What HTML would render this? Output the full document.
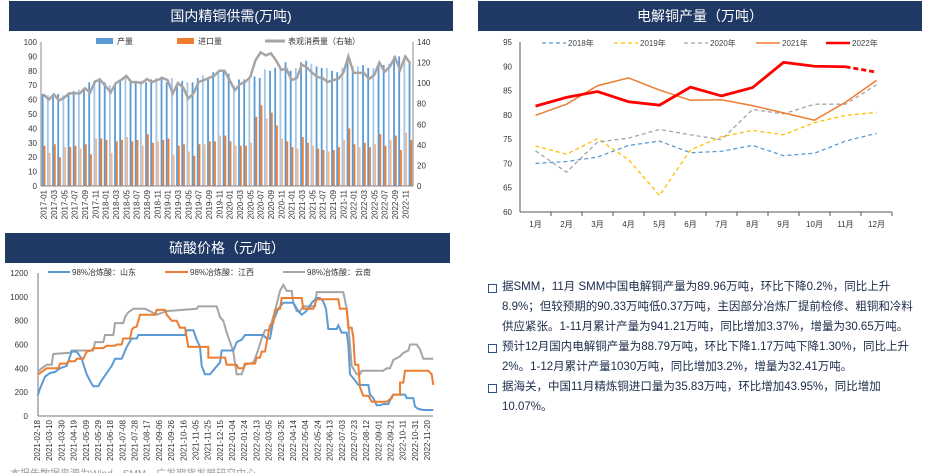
<!DOCTYPE html>
<html><head><meta charset="utf-8"><style>
body{margin:0;background:#fff;width:937px;height:473px;overflow:hidden;font-family:"Liberation Sans","Noto Sans CJK SC",sans-serif}
svg{position:absolute;left:0;top:0}
.t{position:absolute;left:502px;font-size:11.5px;color:#1a2a4a;line-height:20px;width:414px}
.b{position:absolute;left:488px;width:7px;height:7px;border:1.5px solid #2f4f8f}
</style></head><body>
<svg id="s" width="937" height="473" font-family="Liberation Sans, Noto Sans CJK SC, sans-serif">
<rect x="9" y="1" width="444" height="30" fill="#1f3864"/>
<text x="231" y="21" fill="#fff" font-size="14" text-anchor="middle">国内精铜供需(万吨)</text>
<rect x="478" y="1" width="444" height="30" fill="#1f3864"/>
<text x="700" y="21" fill="#fff" font-size="14" text-anchor="middle">电解铜产量（万吨）</text>
<rect x="5" y="233" width="445" height="30" fill="#1f3864"/>
<text x="227" y="253" fill="#fff" font-size="14" text-anchor="middle">硫酸价格（元/吨）</text>
<line x1="5" y1="234" x2="450" y2="234" stroke="#1f3864" stroke-width="2"/>
<g id="g1"></g><g id="g2"></g><g id="g3"></g>
<g font-size="8" fill="#333">
<rect x="96" y="38" width="17" height="6" fill="#5b9bd5"/><text x="117" y="44">产量</text>
<rect x="177" y="38" width="17" height="6" fill="#ed7d31"/><text x="198" y="44">进口量</text>
<line x1="265" y1="41" x2="285" y2="41" stroke="#a5a5a5" stroke-width="3"/><text x="288" y="44">表观消费量（右轴）</text>
</g>
<g font-size="8" fill="#444">
<line x1="542" y1="43" x2="566" y2="43" stroke="#5b9bd5" stroke-width="1.3" stroke-dasharray="4,3"/><text x="568" y="46">2018年</text>
<line x1="614" y1="43" x2="638" y2="43" stroke="#ffc000" stroke-width="1.3" stroke-dasharray="4,3"/><text x="640" y="46">2019年</text>
<line x1="684" y1="43" x2="708" y2="43" stroke="#a5a5a5" stroke-width="1.3" stroke-dasharray="4,3"/><text x="710" y="46">2020年</text>
<line x1="756" y1="43" x2="780" y2="43" stroke="#ed7d31" stroke-width="1.5"/><text x="782" y="46">2021年</text>
<line x1="826" y1="43" x2="850" y2="43" stroke="#ff0000" stroke-width="2.5"/><text x="852" y="46">2022年</text>
</g>
<g font-size="8" fill="#333">
<line x1="48" y1="272" x2="70" y2="272" stroke="#5b9bd5" stroke-width="2"/><text x="72" y="275">98%冶炼酸：山东</text>
<line x1="165" y1="272" x2="188" y2="272" stroke="#ed7d31" stroke-width="2"/><text x="190" y="275">98%冶炼酸：江西</text>
<line x1="283" y1="272" x2="305" y2="272" stroke="#a5a5a5" stroke-width="2"/><text x="307" y="275">98%冶炼酸：云南</text>
</g>
<text x="10" y="477" font-size="10" fill="#999">本报告数据来源为Wind、SMM、广发期货发展研究中心</text>
</svg>
<div class="b" style="top:284px"></div><div class="t" style="top:277px">据SMM，11月 SMM中国电解铜产量为89.96万吨，环比下降0.2%，同比上升8.9%；但较预期的90.33万吨低0.37万吨，主因部分冶炼厂提前检修、粗铜和冷料供应紧张。1-11月累计产量为941.21万吨，同比增加3.37%，增量为30.65万吨。</div>
<div class="b" style="top:344px"></div><div class="t" style="top:337px">预计12月国内电解铜产量为88.79万吨，环比下降1.17万吨下降1.30%，同比上升2%。1-12月累计产量1030万吨，同比增加3.2%，增量为32.41万吨。</div>
<div class="b" style="top:384px"></div><div class="t" style="top:377px">据海关，中国11月精炼铜进口量为35.83万吨，环比增加43.95%，同比增加10.07%。</div>
<script>
const NS="http://www.w3.org/2000/svg";
function el(p,t,a,txt){const e=document.createElementNS(NS,t);for(const k in a)e.setAttribute(k,a[k]);if(txt!=null)e.textContent=txt;document.getElementById(p).appendChild(e);return e;}
const prod=[64,63,62,64,63,65,66,67,68,72,73,75,72,70,71,74,75,72,73,73,72,74,75,76,72,75,70,73,72,72,75,77,74,79,80,80,78,70,74,74,75,76,75,81,80,82,82,86,80,82,86,87,85,83,82,82,80,79,82,87,83,83,84,82,82,83,84,85,90,90,88,86];
const imp=[28,23,29,20,27,27,28,26,29,22,33,33,32,23,31,32,34,31,32,28,36,30,31,32,33,22,28,29,24,21,29,29,31,31,35,35,31,28,28,28,30,48,56,47,51,42,33,31,27,26,34,30,28,26,25,24,25,27,32,40,29,27,30,27,29,36,28,32,35,25,37,32];
const con=[89,84,89,83,86,90,90,90,95,91,102,103,97,91,100,103,107,101,101,100,104,101,103,105,103,90,100,96,85,90,101,103,105,107,112,112,103,93,99,101,106,122,130,127,129,122,113,114,103,105,118,115,110,106,105,101,103,104,110,126,110,110,110,104,108,120,111,116,125,113,126,119];
const L=41,R=413,T=42,B=186,w=(R-L)/72;
for(let v=0;v<=100;v+=10){el("g1","text",{x:L-4,y:B-(v/100)*(B-T)+3,"font-size":8,"text-anchor":"end",fill:"#333"},v);}
for(let v=0;v<=140;v+=20){el("g1","text",{x:R+4,y:B-(v/140)*(B-T)+3,"font-size":8,fill:"#333"},v);}
let pts=[];
for(let i=0;i<72;i++){const x=L+w*i;const op=i%3==1?0.55:1;
el("g1","rect",{x:x+0.8,y:B-prod[i]/100*(B-T),width:1.8,height:prod[i]/100*(B-T),fill:"#5b9bd5",opacity:op});
el("g1","rect",{x:x+2.6,y:B-imp[i]/100*(B-T),width:1.8,height:imp[i]/100*(B-T),fill:"#ed7d31",opacity:op});
pts.push((x+w/2).toFixed(1)+","+(B-con[i]/140*(B-T)).toFixed(1));
if(i%2==0){const lx=x+w/2+3;el("g1","text",{x:0,y:0,"font-size":8,fill:"#333","text-anchor":"end",transform:`translate(${lx},${B+4}) rotate(-90)`},(2017+Math.floor(i/12))+"-"+String(i%12+1).padStart(2,"0"));}}
el("g1","polyline",{points:pts.join(" "),fill:"none",stroke:"#a5a5a5","stroke-width":2.5});
el("g1","line",{x1:L,y1:T,x2:L,y2:B,stroke:"#888"});el("g1","line",{x1:R,y1:T,x2:R,y2:B,stroke:"#888"});el("g1","line",{x1:L,y1:B,x2:R,y2:B,stroke:"#888"});
const L2=520,R2=892,T2=42,B2=212,cw=(R2-L2)/12;
const y2=v=>B2-(v-60)/35*(B2-T2);
for(let v=60;v<=95;v+=5)el("g2","text",{x:L2-8,y:y2(v)+3,"font-size":8,"text-anchor":"end",fill:"#333"},v);
el("g2","line",{x1:L2,y1:T2,x2:L2,y2:B2,stroke:"#555"});el("g2","line",{x1:L2,y1:B2,x2:R2,y2:B2,stroke:"#555"});
for(let i=0;i<12;i++){el("g2","line",{x1:L2+cw*(i+1),y1:B2,x2:L2+cw*(i+1),y2:B2+4,stroke:"#555"});el("g2","text",{x:L2+cw*(i+.5),y:B2+15,"font-size":8,"text-anchor":"middle",fill:"#333"},(i+1)+"月");}
const ser=[[[70,70.4,71.3,73.7,74.6,72.2,72.5,73.7,71.6,72.1,74.6,76.2],"#5b9bd5",1.3,"4,3"],[[73.6,71.9,75.1,70.8,63.4,72.8,75.5,76.8,75.9,78.4,79.9,80.5],"#ffc000",1.3,"4,3"],[[72.6,68.2,74.4,75.2,77,75.9,74.9,81.1,80.2,82.2,82.2,86.2],"#a5a5a5",1.3,"4,3"],[[79.9,82.2,86,87.6,85.1,83,83.1,81.9,80.4,78.9,82.6,87.1],"#ed7d31",1.5,""],[[81.8,83.6,84.8,82.7,82,85.7,83.9,85.6,90.8,90,89.9],"#ff0000",2.8,""]];
const cx=i=>L2+cw*(i+.5);
ser.forEach(s=>el("g2","polyline",{points:s[0].map((v,i)=>cx(i)+","+y2(v)).join(" "),fill:"none",stroke:s[1],"stroke-width":s[2],"stroke-dasharray":s[3]}));
el("g2","line",{x1:cx(10),y1:y2(89.9),x2:cx(11),y2:y2(88.8),stroke:"#ff0000","stroke-width":2.8,"stroke-dasharray":"5,3"});
const B3=416,T3=273,L3=38,R3=433;const y3=v=>B3-v*(B3-T3)/1200;
for(let v=0;v<=1200;v+=200)el("g3","text",{x:L3-10,y:y3(v)+3,"font-size":8,"text-anchor":"end",fill:"#333"},v);
el("g3","line",{x1:L3,y1:T3,x2:L3,y2:B3,stroke:"#777"});el("g3","line",{x1:L3,y1:B3,x2:R3,y2:B3,stroke:"#777"});
const base=new Date(2021,1,18);
for(let k=0;k<33;k++){const d=new Date(base.getTime()+k*20*864e5);const s=d.getFullYear()+"-"+String(d.getMonth()+1).padStart(2,"0")+"-"+String(d.getDate()).padStart(2,"0");const x=37+12.19*k;el("g3","text",{x:0,y:0,"font-size":8,fill:"#333","text-anchor":"end",transform:`translate(${x+3},${B3+4}) rotate(-90)`},s);}
const sd=[[113,170],[120,230],[135,330],[150,360],[165,370],[180,400],[200,420],[215,540],[230,540],[245,480],[260,350],[275,270],[280,250],[295,250],[305,300],[320,360],[335,420],[345,480],[365,480],[380,580],[395,650],[410,650],[415,680],[555,680],[560,720],[580,720],[590,640],[600,580],[605,420],[615,350],[630,350],[645,400],[660,450],[665,550],[700,550],[710,620],[725,640],[735,680],[790,680],[800,650],[810,650],[820,800],[835,900],[850,950],[880,950],[895,880],[905,850],[915,870],[925,900],[935,950],[950,990],[960,990],[970,960],[978,900],[985,730],[1010,730],[1015,760],[1025,700],[1040,700],[1045,600],[1050,350],[1065,300],[1075,260],[1105,260],[1110,180],[1120,150],[1130,90],[1140,90],[1150,100],[1165,100],[1175,160],[1180,180],[1215,180],[1220,150],[1240,150],[1245,80],[1255,60],[1270,50],[1300,50]];
const jx=[[113,350],[120,360],[130,380],[140,400],[175,400],[180,440],[200,440],[205,460],[225,460],[230,480],[250,480],[260,540],[275,550],[280,570],[310,570],[320,590],[345,590],[350,600],[365,600],[370,650],[390,650],[395,720],[400,740],[410,750],[420,850],[465,850],[470,890],[495,890],[500,850],[515,800],[530,800],[540,740],[555,740],[565,580],[625,580],[625,490],[675,490],[680,430],[710,430],[715,400],[730,400],[735,440],[765,440],[770,490],[780,490],[785,540],[795,540],[800,620],[810,760],[820,780],[825,890],[840,900],[845,990],[905,990],[910,900],[940,900],[950,980],[1015,980],[1020,900],[1040,900],[1045,740],[1055,740],[1060,660],[1065,430],[1075,430],[1080,240],[1090,170],[1105,170],[1115,120],[1160,120],[1175,150],[1180,180],[1200,180],[1200,280],[1210,280],[1215,380],[1285,380],[1295,350],[1300,260]];
const yn=[[113,370],[125,400],[140,430],[155,430],[160,520],[210,530],[215,550],[280,550],[285,620],[310,620],[315,680],[340,680],[345,780],[370,780],[375,830],[385,870],[400,900],[435,900],[450,880],[470,850],[500,880],[590,900],[595,920],[650,920],[660,830],[670,800],[680,700],[690,620],[700,540],[710,350],[725,350],[735,430],[760,450],[765,480],[775,560],[785,650],[795,720],[810,720],[815,790],[825,880],[840,1050],[850,1100],[860,1050],[875,1050],[880,950],[890,880],[900,880],[910,920],[945,920],[950,1040],[1030,1040],[1040,900],[1045,780],[1055,420],[1070,350],[1080,350],[1085,380],[1150,380],[1160,400],[1170,400],[1180,470],[1200,500],[1210,530],[1225,550],[1230,600],[1250,600],[1260,560],[1270,480],[1300,480]];
[[yn,"#a5a5a5"],[sd,"#5b9bd5"],[jx,"#ed7d31"]].forEach(s=>el("g3","polyline",{points:s[0].map(p=>(p[0]/3).toFixed(1)+","+y3(p[1]).toFixed(1)).join(" "),fill:"none",stroke:s[1],"stroke-width":2}));
</script>
</body></html>
